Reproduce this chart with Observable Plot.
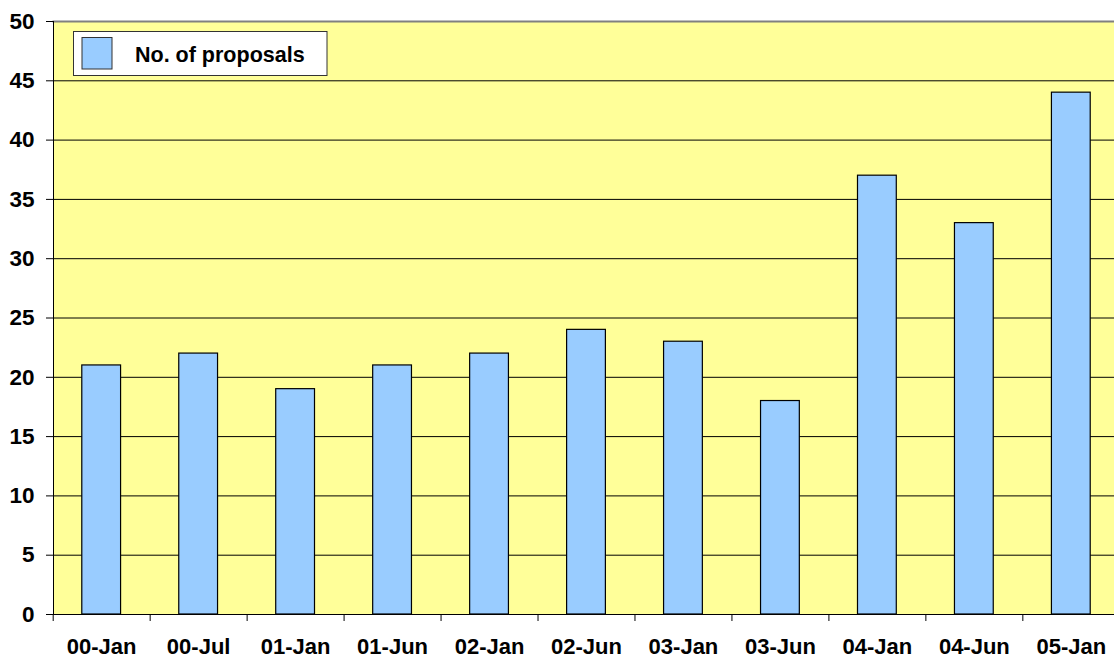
<!DOCTYPE html>
<html>
<head>
<meta charset="utf-8">
<script src="https://cdn.jsdelivr.net/npm/d3@7"></script>
<script src="https://cdn.jsdelivr.net/npm/@observablehq/plot@0.6"></script>
<style>
  html, body { margin: 0; padding: 0; background: #ffffff; overflow: hidden; }
  #chart svg { overflow: hidden; display: block; }
</style>
</head>
<body>
<div id="chart"></div>
<script>
// ---- data ----
const categories = ["00-Jan", "00-Jul", "01-Jan", "01-Jun", "02-Jan", "02-Jun", "03-Jan", "03-Jun", "04-Jan", "04-Jun", "05-Jan"];
const proposals = [21, 22, 19, 21, 22, 24, 23, 18, 37, 33, 44];
const yTicks = [0, 5, 10, 15, 20, 25, 30, 35, 40, 45, 50];
const gridValues = [5, 10, 15, 20, 25, 30, 35, 40, 45];
const seriesName = "No. of proposals";

const data = categories.map((c, i) => ({ category: c, value: proposals[i] }));

const W = 1114, H = 656;
const xRange = [52.7, 1119.3];
const step = (xRange[1] - xRange[0]) / categories.length;
const font = "'Liberation Sans', Arial, Helvetica, sans-serif";

const chart = Plot.plot({
  width: W,
  height: H,
  marginLeft: 53,
  marginRight: 0,
  marginTop: 21,
  marginBottom: 42,
  style: { fontFamily: font, background: "#ffffff" },
  x: { domain: categories, range: xRange, paddingInner: 0.6, paddingOuter: 0.3, round: false, label: null },
  y: { domain: [0, 50], label: null },
  marks: [
    Plot.frame({ fill: "#FFFF99" }),
    Plot.ruleY(gridValues, { stroke: "#000000", strokeWidth: 1 }),
    Plot.barY(data, { x: "category", y: "value", fill: "#99CCFF", stroke: "#000000", strokeWidth: 1.2 }),
    Plot.frame({ anchor: "top", stroke: "#808080", strokeWidth: 2 }),
    Plot.ruleY([0], { stroke: "#000000", strokeWidth: 1 }),
    Plot.frame({ anchor: "left", stroke: "#000000", strokeWidth: 1 }),
    Plot.axisY({ ticks: yTicks, tickSize: 7, tickPadding: 12, fontSize: 22.5, fontWeight: "bold", fill: "#000", stroke: "#000", strokeWidth: 1, label: null, tickFormat: d => String(d) }),
    Plot.ruleX(categories, { x: d => d, dx: -step / 2, y1: 0, y2: 0, insetBottom: -7, stroke: "#000", strokeWidth: 1 }),
    Plot.axisX({ tickSize: 0, tickPadding: 24, fontSize: 22, fontWeight: "bold", fill: "#000", label: null })
  ]
});

document.getElementById("chart").appendChild(chart);

// ---- legend (inside plot area) ----
const svg = d3.select(chart);
const lg = svg.append("g").attr("class", "legend");
lg.append("rect")
  .attr("x", 73.5).attr("y", 31.5).attr("width", 253.5).attr("height", 44)
  .attr("fill", "#ffffff").attr("stroke", "#333333").attr("stroke-width", 1);
lg.append("rect")
  .attr("x", 82).attr("y", 37.5).attr("width", 30).attr("height", 31.5)
  .attr("fill", "#99CCFF").attr("stroke", "#333333").attr("stroke-width", 1);
lg.append("text")
  .attr("x", 135).attr("y", 62.3)
  .attr("text-anchor", "start")
  .attr("font-family", font).attr("font-weight", "bold").attr("font-size", 21.5)
  .attr("fill", "#000")
  .text(seriesName);
</script>
</body>
</html>
